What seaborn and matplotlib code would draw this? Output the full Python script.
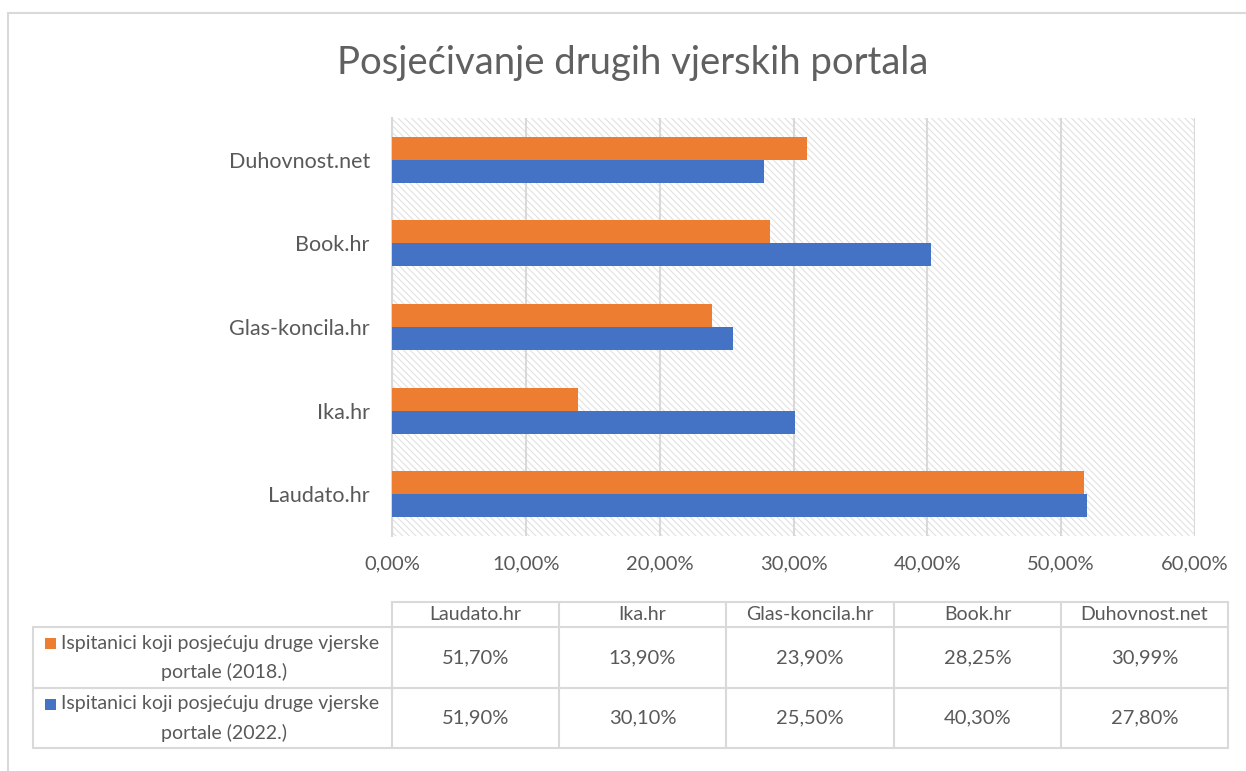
import matplotlib
matplotlib.use("Agg")
import matplotlib.pyplot as plt
import seaborn as sns
import pandas as pd
from matplotlib.patches import Rectangle
from matplotlib.lines import Line2D
from matplotlib.ticker import FuncFormatter, MultipleLocator

# ---- data ----
portals = ["Laudato.hr", "Ika.hr", "Glas-koncila.hr", "Book.hr", "Duhovnost.net"]
series_names = ["Ispitanici koji posjećuju druge vjerske portale (2018.)",
                "Ispitanici koji posjećuju druge vjerske portale (2022.)"]
values_2018 = [51.70, 13.90, 23.90, 28.25, 30.99]
values_2022 = [51.90, 30.10, 25.50, 40.30, 27.80]
series_colors = ["#ED7D31", "#4472C4"]
title = "Posjećivanje drugih vjerskih portala"

df = pd.DataFrame({
    "portal": portals * 2,
    "series": [series_names[0]] * 5 + [series_names[1]] * 5,
    "value": [v / 100 for v in values_2018] + [v / 100 for v in values_2022],
})

sns.set_theme(style="white")
FONT = "Lato"
plt.rcParams["font.family"] = [FONT, "DejaVu Sans"]
plt.rcParams["hatch.linewidth"] = 0.7
TXT = "#595959"
GRID = "#D9D9D9"

W, H = 1246, 771
fig = plt.figure(figsize=(W / 100, H / 100), dpi=100)
fig.patch.set_facecolor("white")

def fx(px):
    return px / W

def fy(py):
    return 1 - py / H

ax = fig.add_axes([fx(392), fy(536), fx(1195) - fx(392), fy(118) - fy(536)])

# hatched plot-area background
bg = Rectangle((0, 0), 1, 1, transform=ax.transAxes, facecolor="white",
               edgecolor="#DEDEDE", hatch="\\\\\\\\\\", linewidth=0, zorder=0)
ax.add_patch(bg)

order = portals[::-1]
sns.barplot(data=df, y="portal", x="value", hue="series", order=order,
            hue_order=series_names, palette=series_colors, orient="h",
            width=0.55, gap=0, ax=ax, saturation=1, legend=False, zorder=3)
for p in ax.patches[1:]:
    p.set_edgecolor("none")

ax.set_xlim(0, 0.6)
ax.set_ylim(4.5, -0.5)
ax.xaxis.set_major_locator(MultipleLocator(0.1))
ax.xaxis.set_major_formatter(FuncFormatter(lambda v, _: f"{v*100:.2f}%".replace(".", ",")))
ax.set_xlabel("")
ax.set_ylabel("")
for s in ["top", "right", "bottom"]:
    ax.spines[s].set_visible(False)
ax.spines["left"].set_color(GRID)
ax.spines["left"].set_linewidth(1.5)
ax.grid(axis="x", color=GRID, linewidth=1.5, zorder=1)
ax.set_axisbelow(True)
ax.tick_params(axis="x", length=0, pad=14, labelsize=14.5, labelcolor=TXT)
ax.tick_params(axis="y", length=0, pad=16, labelsize=15.5, labelcolor=TXT)

# title
fig.text(fx(633), fy(63), title, ha="center", va="center", fontsize=27.5,
         color="#606060", family=[FONT, "DejaVu Sans"])

# outer chart border
fig.add_artist(Line2D([fx(8), fx(8)], [fy(13), 0], color=GRID, lw=1.5))
fig.add_artist(Line2D([fx(8), 1], [fy(13), fy(13)], color=GRID, lw=1.5))

# data table
col_edges = [392, 559, 726, 894, 1061, 1228]
row_edges = [602, 627, 688, 748]
tl = dict(color=GRID, lw=1.5)
fig.add_artist(Line2D([fx(392), fx(1228)], [fy(row_edges[0])] * 2, **tl))
for r in row_edges[1:]:
    fig.add_artist(Line2D([fx(33), fx(1228)], [fy(r)] * 2, **tl))
fig.add_artist(Line2D([fx(33), fx(33)], [fy(row_edges[1]), fy(row_edges[3])], **tl))
for c in col_edges:
    fig.add_artist(Line2D([fx(c), fx(c)], [fy(row_edges[0]), fy(row_edges[3])], **tl))

TS = 14
for i, name in enumerate(portals):
    cx = (col_edges[i] + col_edges[i + 1]) / 2
    fig.text(fx(cx), fy(614), name, ha="center", va="center", fontsize=TS, color=TXT)
    for j, vals in enumerate([values_2018, values_2022]):
        cy = (row_edges[j + 1] + row_edges[j + 2]) / 2
        fig.text(fx(cx), fy(cy), f"{vals[i]:.2f}%".replace(".", ","),
                 ha="center", va="center", fontsize=TS + 0.5, color=TXT)

for j, name in enumerate(series_names):
    top = row_edges[j + 1]
    words = name.split(" ")
    line1 = " ".join(words[:5])
    line2 = " ".join(words[5:])
    fig.add_artist(Rectangle((fx(45), fy(top + 22)), fx(11), fy(0) - fy(11),
                             facecolor=series_colors[j], edgecolor="none"))
    fig.text(fx(61), fy(top + 16), line1, ha="left", va="center", fontsize=TS, color=TXT)
    fig.text(fx(224), fy(top + 45), line2, ha="center", va="center", fontsize=TS, color=TXT)

fig.savefig("out.png", dpi=100, facecolor="white")
